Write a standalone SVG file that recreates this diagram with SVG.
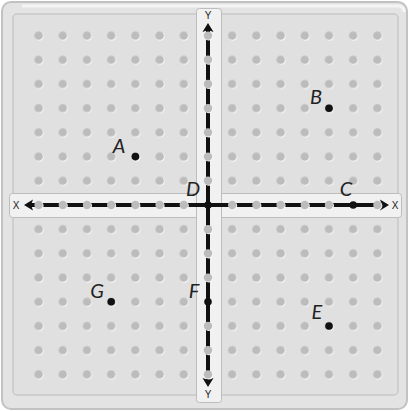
<svg xmlns="http://www.w3.org/2000/svg" width="409" height="411" viewBox="0 0 409 411">
<style>
.lbl{font-family:Lato,"Open Sans","Noto Sans",sans-serif;font-style:italic;font-size:20px;fill:#222;}
.ax{font-family:"Liberation Sans",Arial,sans-serif;font-size:10px;fill:#222;}
.peg{fill:#bcbcbc;}
.hl{fill:#f7f7f7;}
.strip{fill:#f1f1f1;stroke:#bdbdbd;stroke-width:1;}
.axis{stroke:#111;stroke-width:4;fill:none;}
.head{fill:#111;}
.pt{fill:#111;}
</style>
<defs>
<pattern id="pegs" patternUnits="userSpaceOnUse" x="195.9" y="192.9" width="24.2" height="24.2">
<circle cx="12.9" cy="12.9" r="4.2" class="hl"/>
<circle cx="12.1" cy="12.1" r="4.2" class="peg"/>
</pattern>
<g id="pg"><circle cx="0.8" cy="0.8" r="4.2" class="hl"/><circle cx="0" cy="0" r="4.2" class="peg"/></g>
</defs>
<g id="board">
<rect x="2" y="2" width="405" height="407" rx="9" fill="#e3e3e3" stroke="#c2c2c2" stroke-width="2"/>
<path d="M22,6 L398,6 Q404,6 404,12" fill="none" stroke="#f4f4f4" stroke-width="3"/>
<rect x="13" y="14" width="385" height="381" rx="4" fill="#e0e0e0" stroke="#c8c8c8" stroke-width="1.5"/>
<rect x="26" y="23" width="364" height="364" fill="url(#pegs)"/>
</g>
<g id="x-axis">
<rect x="9.5" y="193.5" width="392" height="24" rx="3" class="strip"/>
</g>
<g id="y-axis">
<rect x="196.5" y="8.5" width="25" height="394" rx="3" class="strip"/>
</g>
<g id="connectors">
<line x1="30" y1="205" x2="386" y2="205" class="axis"/>
<line x1="208" y1="28" x2="208" y2="382" class="axis"/>
<path d="M24,205 L33,199.5 L31,205 L33,210.5 Z" class="head"/>
<path d="M389,205 L380,199.5 L382,205 L380,210.5 Z" class="head"/>
<path d="M208,23 L202.5,32 L208,30 L213.5,32 Z" class="head"/>
<path d="M208,387 L202.5,378 L208,380 L213.5,378 Z" class="head"/>
</g>
<g id="axis-pegs">
<use href="#pg" x="38.6" y="205"/><use href="#pg" x="62.8" y="205"/><use href="#pg" x="87" y="205"/><use href="#pg" x="111.2" y="205"/><use href="#pg" x="135.4" y="205"/><use href="#pg" x="159.6" y="205"/><use href="#pg" x="183.8" y="205"/>
<use href="#pg" x="232.2" y="205"/><use href="#pg" x="256.4" y="205"/><use href="#pg" x="280.6" y="205"/><use href="#pg" x="304.8" y="205"/><use href="#pg" x="329" y="205"/><use href="#pg" x="377.4" y="205"/>
<use href="#pg" x="208" y="35.6"/><use href="#pg" x="208" y="59.8"/><use href="#pg" x="208" y="84"/><use href="#pg" x="208" y="108.2"/><use href="#pg" x="208" y="132.4"/><use href="#pg" x="208" y="156.6"/><use href="#pg" x="208" y="180.8"/>
<use href="#pg" x="208" y="229.2"/><use href="#pg" x="208" y="253.4"/><use href="#pg" x="208" y="277.6"/><use href="#pg" x="208" y="326"/><use href="#pg" x="208" y="350.2"/><use href="#pg" x="208" y="374.4"/>
</g>
<g id="axis-labels">
<text x="16" y="209" class="ax" text-anchor="middle">X</text>
<text x="395" y="209" class="ax" text-anchor="middle">X</text>
<text x="208" y="19" class="ax" text-anchor="middle" font-size="9">Y</text>
<text x="208" y="398" class="ax" text-anchor="middle" font-size="9">Y</text>
</g>
<g id="A"><circle cx="135.4" cy="156.6" r="3.8" class="pt"/><text x="119" y="153" class="lbl" text-anchor="middle">A</text></g>
<g id="B"><circle cx="329" cy="108.2" r="3.8" class="pt"/><text x="316" y="104" class="lbl" text-anchor="middle">B</text></g>
<g id="C"><circle cx="353.2" cy="205" r="3.8" class="pt"/><text x="346" y="196" class="lbl" text-anchor="middle">C</text></g>
<g id="D"><circle cx="208" cy="205" r="3.8" class="pt"/><text x="193" y="196" class="lbl" text-anchor="middle">D</text></g>
<g id="E"><circle cx="329" cy="326" r="3.8" class="pt"/><text x="317" y="319" class="lbl" text-anchor="middle">E</text></g>
<g id="F"><circle cx="208" cy="301.8" r="3.8" class="pt"/><text x="194" y="298" class="lbl" text-anchor="middle">F</text></g>
<g id="G"><circle cx="111.2" cy="301.8" r="3.8" class="pt"/><text x="97" y="298" class="lbl" text-anchor="middle">G</text></g>
</svg>
